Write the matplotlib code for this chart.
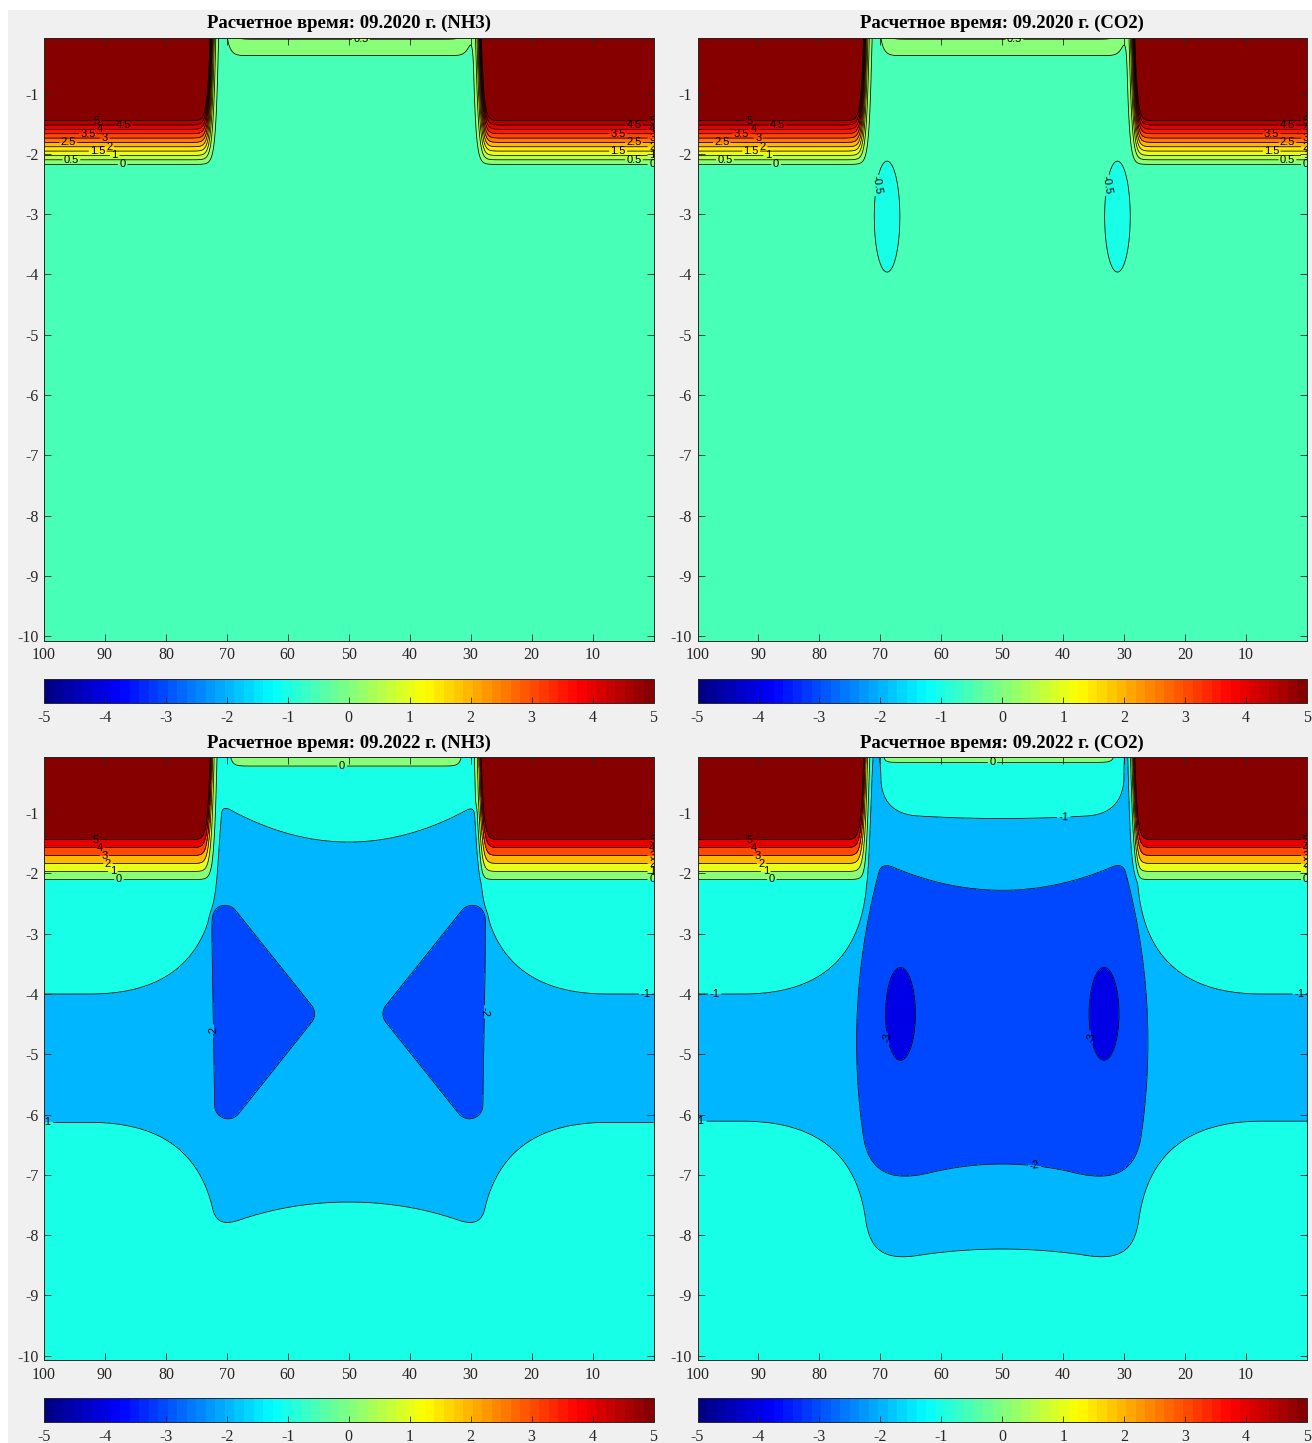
import numpy as np
import matplotlib
matplotlib.use("Agg")
import matplotlib.pyplot as plt
from matplotlib.colors import ListedColormap, Normalize
from matplotlib.cm import ScalarMappable
from matplotlib.patches import Rectangle

# ---------------- data ----------------
titles = ["Расчетное время: 09.2020 г. (NH3)", "Расчетное время: 09.2020 г. (CO2)",
          "Расчетное время: 09.2022 г. (NH3)", "Расчетное время: 09.2022 г. (CO2)"]
x_ticks = [100, 90, 80, 70, 60, 50, 40, 30, 20, 10]
y_ticks = [-1, -2, -3, -4, -5, -6, -7, -8, -9, -10]
cbar_ticks = [-5, -4, -3, -2, -1, 0, 1, 2, 3, 4, 5]
levels_2020 = [-0.5, 0, 0.5, 1, 1.5, 2, 2.5, 3, 3.5, 4, 4.5, 5]
levels_2022 = [-3, -2, -1, 0, 1, 2, 3, 4, 5]
line_levels = [levels_2020, levels_2020, levels_2022, levels_2022]
fill_levels = [[-1] + levels_2020 + [100], [-1] + levels_2020 + [100],
               [-4] + levels_2022 + [100], [-4] + levels_2022 + [100]]

background = [-0.25, -0.25, -0.5, -0.5]
# high value blocks at the top corners: inner edge x, base depth, gradient
block_edge_x = [73.0, 28.0]
block_width = 0.4
block_base_y = [-2.206, -2.206, -2.166, -2.166]
block_rate = [6.94, 6.94, 7.58, 7.58]
# strip under the top boundary between the blocks
strip_x = [[30.5, 69.5], [30.5, 69.5], [31.3, 69.6], [31.4, 70.0]]
strip_amp = [1.0, 1.0, 0.9, 0.9]
strip_y0 = [-0.235, -0.235, -0.238, -0.173]
strip_wy = [0.123, 0.123, 0.08, 0.06]

# CO2 2020: two -0.5 lenses (x centres, depth, half width, half height)
co2_2020_lens_x = [68.9, 31.1]
co2_2020_lens = [-3.04, 2.1, 0.92]

# NH3 2022: -1 zone = layer + column, -2 zone = two wedges
nh3_2022_layer = [-6.13, -4.0]
# cx, hw0, hw_c, hw_yc, top0, top_rise, top_w, k_top, bot0, bot_drop, bot_w, k_bot
nh3_2022_column = [50, 22.5, 0.1, -5.0, -1.48, 0.6, 20.6, 1.5, -7.38, 0.37, 18.5, 4.0]
nh3_2022_wedge = [(70.3, -2.75), (57.8, -4.33), (69.8, -5.85)]
nh3_2022_wedge_r = 2.2

# CO2 2022: -1 zone = layer + column minus top cup, -2 core, -3 lenses
co2_2022_layer = [-6.11, -4.0]
co2_2022_column = [50, 22.6, 0.05, -5.0, 2.0, 0.0, 1.0, 1.0, -8.23, 0.15, 16.5, 8.0]
co2_2022_cup = [50, 19.9, 0.0, -5.0, 2.0, 0.0, 1.0, 1.0, -1.09, -0.05, 15.0, 6.0]
co2_2022_core = [50, 23.9, 0.46, -4.8, -2.28, 0.43, 19.0, 2.0, -6.82, 0.28, 16.5, 10.0]
co2_2022_lens_x = [66.7, 33.3]
co2_2022_lens = [-4.33, 2.45, 0.77]

fillet_k = 20.0

# ---------------- helpers ----------------
VS = 10.0  # y stretch so shapes are roughly isotropic on screen


def matlab_jet(n=64):
    t = (np.arange(n) + 0.5) / n
    r = np.clip(1.5 - np.abs(4 * t - 3), 0, 1)
    g = np.clip(1.5 - np.abs(4 * t - 2), 0, 1)
    b = np.clip(1.5 - np.abs(4 * t - 1), 0, 1)
    return np.column_stack([r, g, b])


jet64 = matlab_jet(64)
cmap = ListedColormap(jet64)


def level_color(v):
    i = int(np.clip((v + 5) / 10 * 64, 0, 63))
    return jet64[i]


def sig(t):
    return 0.5 * (1 + np.tanh(0.5 * t))


def inside(d, eps=0.4):
    return 0.5 * (1 - np.tanh(d / eps))


def smin(a, b, k):
    h = np.clip(0.5 + 0.5 * (b - a) / k, 0, 1)
    return b + (a - b) * h - k * h * (1 - h)


def smax(a, b, k):
    return -smin(-a, -b, k)


def column_sdf(x, y, p):
    cx, hw0, hw_c, hw_yc, top0, top_rise, top_w, k_top, bot0, bot_drop, bot_w, k_bot = p
    u = x - cx
    hw = hw0 - hw_c * (y - hw_yc) ** 2
    d_side = np.abs(u) - hw
    d_top = (y - (top0 + top_rise * (u / top_w) ** 2)) * VS
    d_bot = ((bot0 - bot_drop * (u / bot_w) ** 2) - y) * VS
    return smax(smax(d_side, d_top, k_top), d_bot, k_bot)


def layer_sdf(y, lo_hi):
    lo, hi = lo_hi
    return (np.abs(y - (lo + hi) / 2) - (hi - lo) / 2) * VS


def ellipse_sdf(x, y, cx, cy, a, b):
    return (np.sqrt(((x - cx) / a) ** 2 + ((y - cy) / b) ** 2) - 1) * a


def polygon_sdf(x, y, pts):
    px, py = x, y * VS
    vx = [p[0] for p in pts]
    vy = [p[1] * VS for p in pts]
    d = (px - vx[0]) ** 2 + (py - vy[0]) ** 2
    s = np.ones_like(px)
    n = len(pts)
    for i in range(n):
        j = i - 1
        ex, ey = vx[j] - vx[i], vy[j] - vy[i]
        wx, wy = px - vx[i], py - vy[i]
        t = np.clip((wx * ex + wy * ey) / (ex * ex + ey * ey), 0, 1)
        bx, by = wx - ex * t, wy - ey * t
        d = np.minimum(d, bx * bx + by * by)
        c1 = py >= vy[i]
        c2 = py < vy[j]
        c3 = ex * wy > ey * wx
        flip = (c1 & c2 & c3) | (~c1 & ~c2 & ~c3)
        s = np.where(flip, -s, s)
    return s * np.sqrt(d)


xg = np.linspace(0, 100, 1001)
yg = np.linspace(-10.07, -0.07, 401)
X, Y = np.meshgrid(xg, yg)


def field(i):
    Z = np.full(X.shape, background[i], dtype=float)
    L = block_rate[i] * np.logaddexp(0, (Y - block_base_y[i]) / 0.02) * 0.02
    B = sig((X - block_edge_x[0]) / block_width) + sig((block_edge_x[1] - X) / block_width)
    Z += L * B
    x0, x1 = strip_x[i]
    Z += strip_amp[i] * sig((Y - strip_y0[i]) / strip_wy[i]) * sig((X - x0) / 0.5) * sig((x1 - X) / 0.5)
    if i == 1:
        cy, a, b = co2_2020_lens
        d = np.minimum(*[ellipse_sdf(X, Y, cx, cy, a, b) for cx in co2_2020_lens_x])
        Z -= 0.5 * inside(d)
    elif i == 2:
        d1 = smin(layer_sdf(Y, nh3_2022_layer), column_sdf(X, Y, nh3_2022_column), fillet_k)
        mirrored = [(100 - px, py) for px, py in nh3_2022_wedge]
        d2 = np.minimum(polygon_sdf(X, Y, nh3_2022_wedge), polygon_sdf(X, Y, mirrored)) - nh3_2022_wedge_r
        Z -= inside(d1) + inside(d2)
    elif i == 3:
        d1 = smin(layer_sdf(Y, co2_2022_layer), column_sdf(X, Y, co2_2022_column), fillet_k)
        d1 = np.maximum(d1, -column_sdf(X, Y, co2_2022_cup))
        d2 = column_sdf(X, Y, co2_2022_core)
        cy, a, b = co2_2022_lens
        d3 = np.minimum(*[ellipse_sdf(X, Y, cx, cy, a, b) for cx in co2_2022_lens_x])
        Z -= inside(d1) + inside(d2) + inside(d3)
    return Z


# ---------------- figure ----------------
plt.rcParams["font.family"] = ["Liberation Serif", "DejaVu Serif"]
W, H = 1312, 1443
fig = plt.figure(figsize=(W / 100, H / 100), dpi=100, facecolor="white")
fig.patches.append(Rectangle((8 / W, 0), 1, 1 - 9.5 / H, transform=fig.transFigure,
                             facecolor="#f0f0f0", edgecolor="none", zorder=-10))

ax_left = [44 / W, 697.5 / W]
ax_w = 609.5 / W
ax_bottom = [(H - 640.5) / H, (H - 1360) / H]
ax_h = 603 / H
cb_bottom = [(H - 703) / H, (H - 1422) / H]
cb_h = 24 / H
title_y = [1 - 23 / H, 1 - 743 / H]
edge = "#262626"

for i in range(4):
    r, c = divmod(i, 2)
    ax = fig.add_axes([ax_left[c], ax_bottom[r], ax_w, ax_h])
    Z = field(i)
    fl = fill_levels[i]
    cols = [level_color(v) for v in fl[:-1]]
    ax.contourf(X, Y, Z, levels=fl, colors=cols)
    cs = ax.contour(X, Y, Z, levels=line_levels[i], colors="k", linewidths=0.55,
                    negative_linestyles="solid")
    labels = ax.clabel(cs, fmt="%g", fontsize=8, inline=True, inline_spacing=2)
    for t in labels:
        t.set_fontfamily("Liberation Sans")
    ax.set_xlim(100, 0)
    ax.set_ylim(-10.07, -0.07)
    ax.set_xticks(x_ticks)
    ax.set_yticks(y_ticks)
    ax.set_xticklabels([str(v) for v in x_ticks])
    ax.set_yticklabels([str(v) for v in y_ticks])
    ax.tick_params(direction="in", length=5, width=0.6, top=True, right=True,
                   labelsize=11.5, color=edge, labelcolor=edge)
    ax.tick_params(axis="x", pad=5)
    ax.tick_params(axis="y", pad=4)
    for s in ax.spines.values():
        s.set_color(edge)
        s.set_linewidth(0.7)
    fig.text(ax_left[c] + ax_w / 2, title_y[r], titles[i], ha="center", va="center",
             fontsize=13.5, fontweight="bold", color="black")

    cax = fig.add_axes([ax_left[c], cb_bottom[r], ax_w, cb_h])
    cb = fig.colorbar(ScalarMappable(norm=Normalize(-5, 5), cmap=cmap), cax=cax,
                      orientation="horizontal", ticks=cbar_ticks)
    cb.ax.set_xticklabels([str(v) for v in cbar_ticks])
    cb.ax.tick_params(direction="in", length=4, width=0.6, labelsize=11.5, color=edge,
                      labelcolor=edge, pad=5)
    cb.outline.set_edgecolor(edge)
    cb.outline.set_linewidth(0.7)

fig.savefig("out.png", dpi=100, facecolor=fig.get_facecolor())
